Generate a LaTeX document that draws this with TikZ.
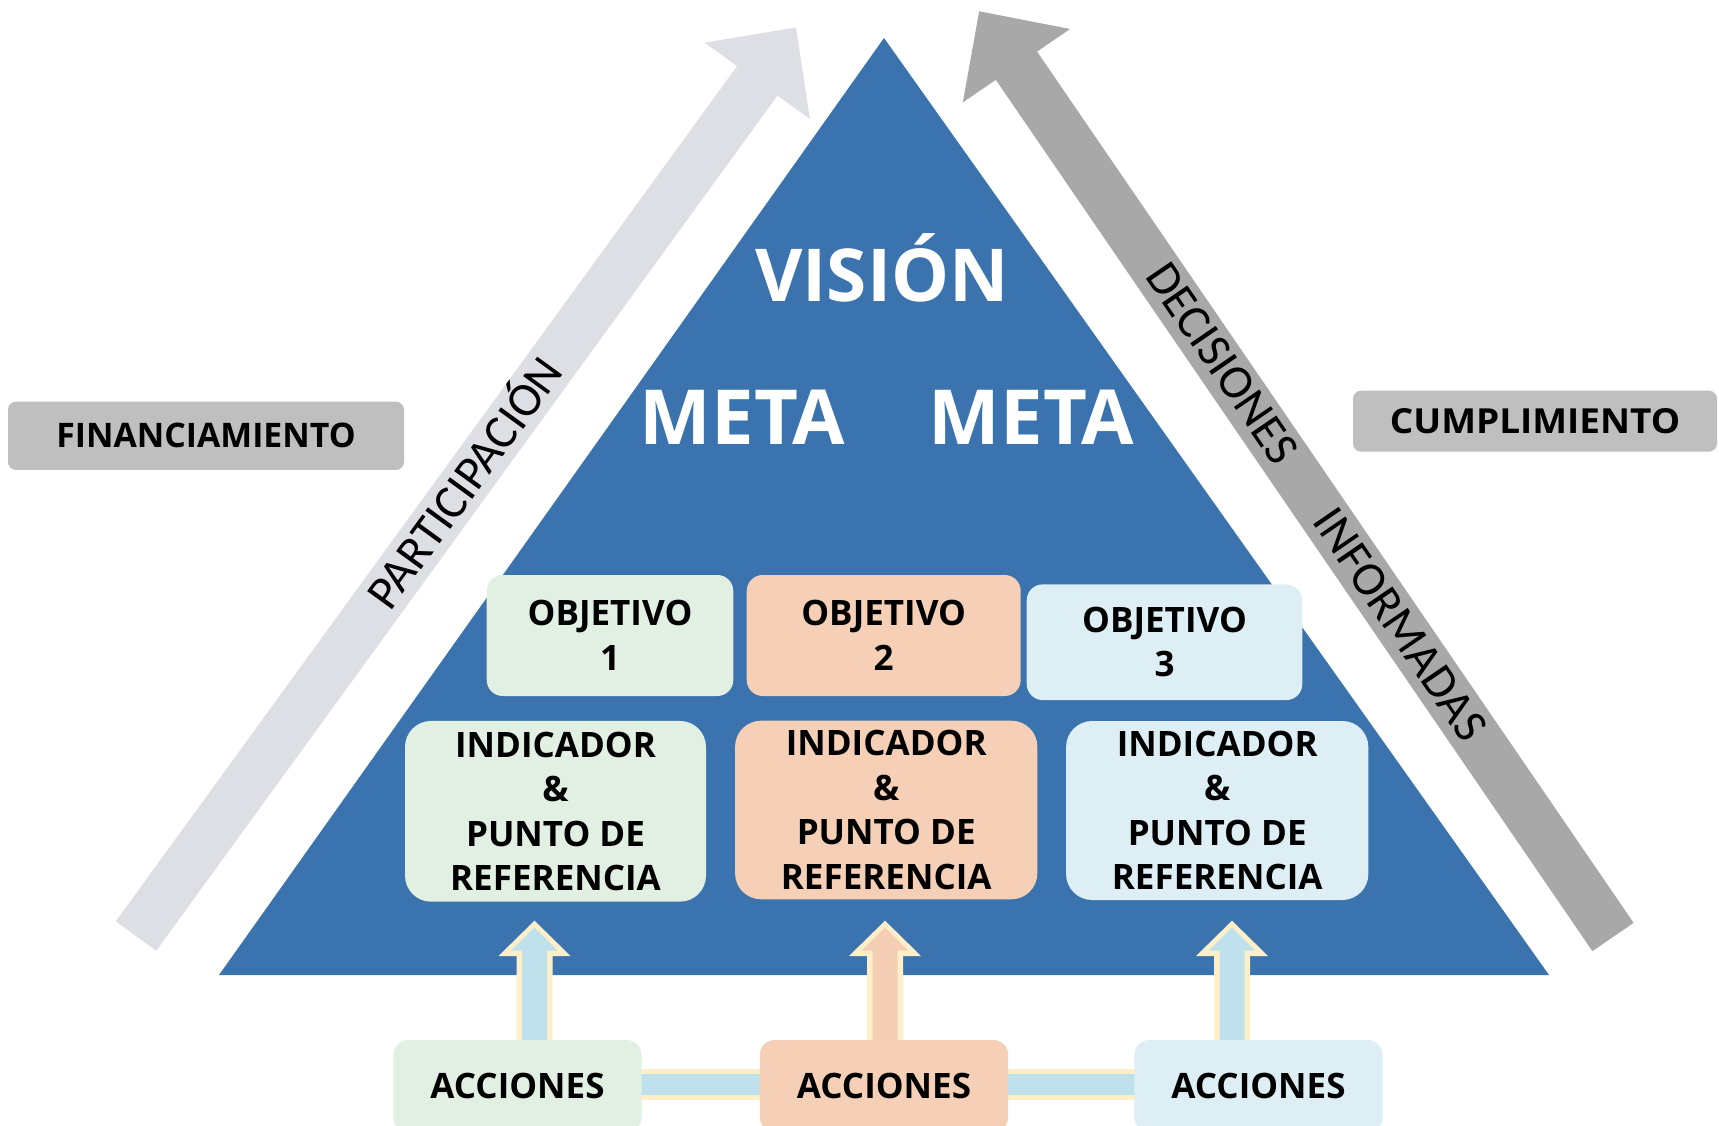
\documentclass[tikz,border=0pt]{standalone}
\usepackage{fontspec}
\setmainfont{Open Sans}
\newfontfamily\calfont{Carlito}
\newfontfamily\widefont{Open Sans}[FakeStretch=1.07]
\definecolor{triblue}{HTML}{3A73AE}
\definecolor{cgreen}{HTML}{E1F0E2}
\definecolor{cpeach}{HTML}{F5CFB6}
\definecolor{clblue}{HTML}{DDEEF4}
\definecolor{larrow}{HTML}{DEDFE4}
\definecolor{rarrow}{HTML}{A8A8A8}
\definecolor{lblgray}{HTML}{BFBFBF}
\definecolor{arrblue}{HTML}{BEE1EB}
\definecolor{arrpeach}{HTML}{F4CEB5}
\definecolor{cream}{HTML}{FFEFC8}
\newcommand{\FatUpArrow}[2]{%
  \fill[cream] (#1,920.7) -- ++(36,35.3) -- ++(-18,0) -- ++(0,90) -- ++(-36,0) -- ++(0,-90) -- ++(-18,0) -- cycle;
  \fill[#2] (#1,927.3) -- ++(23.3,23.4) -- ++(-10.8,0) -- ++(0,95) -- ++(-25,0) -- ++(0,-95) -- ++(-10.8,0) -- cycle;}
\begin{document}
\begin{tikzpicture}[x=1pt,y=-1pt,
  txt/.style={font=\bfseries\fontsize{35}{44.5}\selectfont, text=black, align=center, inner sep=0pt},
  objbox/.style={txt, rounded corners=16pt},
  indbox/.style={txt, rounded corners=26pt},
  accbox/.style={txt, rounded corners=15pt, minimum width=248.4pt, minimum height=92pt},
  lblbox/.style={text=black, fill=lblgray, rounded corners=8pt, inner sep=0pt},
  bigtxt/.style={font=\bfseries\fontsize{76}{90}\selectfont, text=white, inner sep=0pt, anchor=base},
  armtxt/.style={font=\calfont\fontsize{48}{56}\selectfont, text=black, inner sep=0pt}]
\useasboundingbox (0,0) rectangle (1719,1126);
\clip (0,0) rectangle (1719,1126);
% pyramid
\fill[triblue] (219,975) -- (884,38) -- (1549,975) -- cycle;
% big arrows
\begin{scope}[shift={(136,936)}, rotate=54]
  \fill[larrow] (0,-25) -- (1057,-25) -- (1057,-65) -- (1123,0) -- (1057,65) -- (1057,25) -- (0,25) -- cycle;
\end{scope}
\begin{scope}[shift={(1613,937)}, rotate=124.4]
  \fill[rarrow] (0,-25) -- (1056,-25) -- (1056,-65) -- (1122,0) -- (1056,65) -- (1056,25) -- (0,25) -- cycle;
\end{scope}
\node[armtxt, rotate=54, anchor=base] (part) at (477.7,492.1) {PARTICIPACIÓN};
\node[armtxt, rotate=-55.6] (dec) at (1222.5,363.3) {DECISIONES};
\node[armtxt, rotate=-55.6] (inf) at (1400.3,624.5) {INFORMADAS};
% side labels
\node[lblbox, minimum width=396pt, minimum height=68.3pt, font=\bfseries\fontsize{33.8}{40}\selectfont] (fin) at (206,435.8) {FINANCIAMIENTO};
\node[lblbox, minimum width=364pt, minimum height=61pt, font=\widefont\bfseries\fontsize{34.5}{40}\selectfont] (cum) at (1535,421.2) {CUMPLIMIENTO};
% titles
\node[bigtxt, font=\bfseries\fontsize{73}{90}\selectfont] (vision) at (882,301.5) {VISIÓN};
\node[bigtxt] (meta1) at (742.5,444.5) {META};
\node[bigtxt] (meta2) at (1031.5,444.5) {META};
% objectives
\node[objbox, fill=cgreen, minimum width=246.6pt, minimum height=121pt] (obj1) at (610,635.5) {OBJETIVO\\1};
\node[objbox, fill=cpeach, minimum width=274pt, minimum height=121pt] (obj2) at (883.7,635.5) {OBJETIVO\\2};
\node[objbox, fill=clblue, minimum width=275.6pt, minimum height=115.7pt] (obj3) at (1164.5,642.2) {OBJETIVO\\3};
% indicators
\node[indbox, fill=cgreen, minimum width=301pt, minimum height=180.7pt] (ind1) at (555.5,811.3) {INDICADOR\\\&\\PUNTO DE\\REFERENCIA};
\node[indbox, fill=cpeach, minimum width=302.3pt, minimum height=178.6pt] (ind2) at (886.2,810) {INDICADOR\\\&\\PUNTO DE\\REFERENCIA};
\node[indbox, fill=clblue, minimum width=302.3pt, minimum height=179pt] (ind3) at (1217.2,810.5) {INDICADOR\\\&\\PUNTO DE\\REFERENCIA};
% connecting bar
\fill[cream] (640,1069) rectangle (1136,1100);
\fill[arrblue] (640,1074) rectangle (1136,1095);
% up arrows
\FatUpArrow{534.5}{arrblue}
\FatUpArrow{885}{arrpeach}
\FatUpArrow{1232}{arrblue}
% actions
\node[accbox, fill=cgreen] (acc1) at (517.5,1086) {ACCIONES};
\node[accbox, fill=cpeach] (acc2) at (884,1086) {ACCIONES};
\node[accbox, fill=clblue] (acc3) at (1258.5,1086) {ACCIONES};
\end{tikzpicture}
\end{document}
